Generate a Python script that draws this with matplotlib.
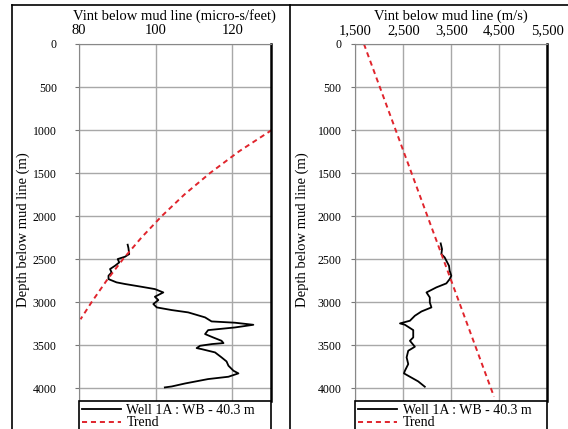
import matplotlib.pyplot as plt
from matplotlib.lines import Line2D

plt.rcParams['font.family'] = ['Liberation Serif', 'DejaVu Serif']

# Well 1A interval velocity
# left panel: slowness (micro-s/feet) vs depth below mud line (m)
well_depth_dt = [2333, 2372, 2442, 2473, 2500, 2539, 2578, 2616, 2655, 2694,
                 2733, 2771, 2790, 2822, 2849, 2888, 2938, 2977, 3023, 3062,
                 3093, 3120, 3178, 3225, 3240, 3264, 3295, 3326, 3372, 3411,
                 3450, 3477, 3488, 3508, 3535, 3547, 3585, 3643, 3690, 3740,
                 3798, 3829, 3868, 3895, 3946, 3981, 3992]
well_dt = [92.7, 92.9, 93.1, 92.0, 90.1, 90.5, 89.4, 88.1, 88.5, 87.7,
           87.7, 89.8, 92.0, 96.3, 99.8, 102.0, 99.8, 100.7, 99.4, 100.3,
           104.2, 108.5, 112.9, 114.6, 120.7, 125.5, 120.7, 113.7, 112.9, 115.0,
           117.2, 117.7, 114.7, 111.6, 110.7, 112.0, 115.5, 117.2, 118.5, 119.0,
           120.3, 121.6, 119.0, 113.7, 107.7, 104.2, 102.4]

# right panel: velocity (m/s) vs depth
well_depth_v = [2318, 2384, 2442, 2481, 2519, 2578, 2636, 2694, 2733, 2783,
                2829, 2888, 2946, 3004, 3062, 3109, 3159, 3217, 3248, 3264,
                3326, 3411, 3450, 3519, 3566, 3643, 3721, 3798, 3829, 3868,
                3922, 3984]
well_v = [3279, 3307, 3293, 3362, 3397, 3452, 3466, 3500, 3466, 3397,
          3190, 2983, 3052, 3052, 3086, 2879, 2741, 2638, 2431, 2534,
          2707, 2707, 2638, 2741, 2603, 2569, 2603, 2534, 2514, 2638,
          2810, 2948]

# trend lines
trend_depth_dt = [1000, 1250, 1500, 1750, 2000, 2250, 2500, 2750, 3000, 3200]
trend_dt = [130.3, 121.7, 114.2, 107.5, 101.6, 96.3, 91.5, 87.2, 83.3, 80.4]
trend_depth_v = [0, 4100]
trend_v = [1680, 4390]

W, H = 568, 429
fig = plt.figure(figsize=(W / 100, H / 100), dpi=100)

# panel frames (two pictures side by side)
fig.add_artist(Line2D([12 / W, 12 / W], [0, 1 - 5 / H], color='black', lw=1.2))
fig.add_artist(Line2D([290 / W, 290 / W], [0, 1 - 5 / H], color='black', lw=1.2))
fig.add_artist(Line2D([12 / W, 1], [1 - 5 / H, 1 - 5 / H], color='black', lw=1.2))

red = '#e0242c'
grid_c = '#a8a8a8'
dash = (0, (2.6, 2.0))


def make_axes(x0, x1, ytick_pad, ylabel_x):
    ax = fig.add_axes([x0 / W, (H - 401) / H, (x1 - x0) / W, (401 - 44) / H])
    ax.set_ylim(4150, 0)
    ax.set_yticks(range(0, 4001, 500))
    ax.xaxis.tick_top()
    ax.xaxis.set_label_position('top')
    ax.tick_params(axis='x', length=0, pad=5, labelsize=10.5)
    ax.tick_params(axis='y', length=3, pad=ytick_pad, labelsize=8.5,
                   color='#777777')
    ax.grid(True, color=grid_c, lw=1)
    ax.set_axisbelow(True)
    for s in ['left', 'top']:
        ax.spines[s].set_color('#888888')
    ax.spines['bottom'].set_visible(False)
    ax.spines['right'].set_color('black')
    ax.spines['right'].set_linewidth(1.8)
    ax.set_ylabel('Depth below mud line (m)', fontsize=10.5)
    ax.yaxis.set_label_coords((ylabel_x - x0) / (x1 - x0), 0.48)
    return ax


ax1 = make_axes(79, 270.6, 13, 30)
ax1.set_xlim(80, 130)
ax1.set_xticks([80, 100, 120])
ax1.set_xlabel('Vint below mud line (micro-s/feet)', fontsize=10.5, labelpad=3)
ax1.plot(well_dt, well_depth_dt, color='black', lw=1.3,
         label='Well 1A : WB - 40.3 m')
ax1.plot(trend_dt, trend_depth_dt, color=red, lw=1.4, ls=dash, label='Trend')

ax2 = make_axes(355.3, 547.3, 7, 309)
ax2.set_xlim(1500, 5500)
ax2.set_xticks([1500, 2500, 3500, 4500, 5500])
ax2.set_xticklabels(['1,500', '2,500', '3,500', '4,500', '5,500'])
ax2.set_xlabel('Vint below mud line (m/s)', fontsize=10.5, labelpad=3)
ax2.plot(well_v, well_depth_v, color='black', lw=1.3,
         label='Well 1A : WB - 40.3 m')
ax2.plot(trend_v, trend_depth_v, color=red, lw=1.4, ls=dash, label='Trend')

for ax in (ax1, ax2):
    leg = ax.legend(loc='upper left', bbox_to_anchor=(0, 0, 1, 0), mode='expand',
                    borderaxespad=0, fancybox=False, framealpha=1,
                    edgecolor='black', fontsize=10, handlelength=2.8,
                    handletextpad=0.4, labelspacing=-0.05, borderpad=0.22)
    leg.get_frame().set_linewidth(1.2)

fig.savefig('out.png', dpi=100)
